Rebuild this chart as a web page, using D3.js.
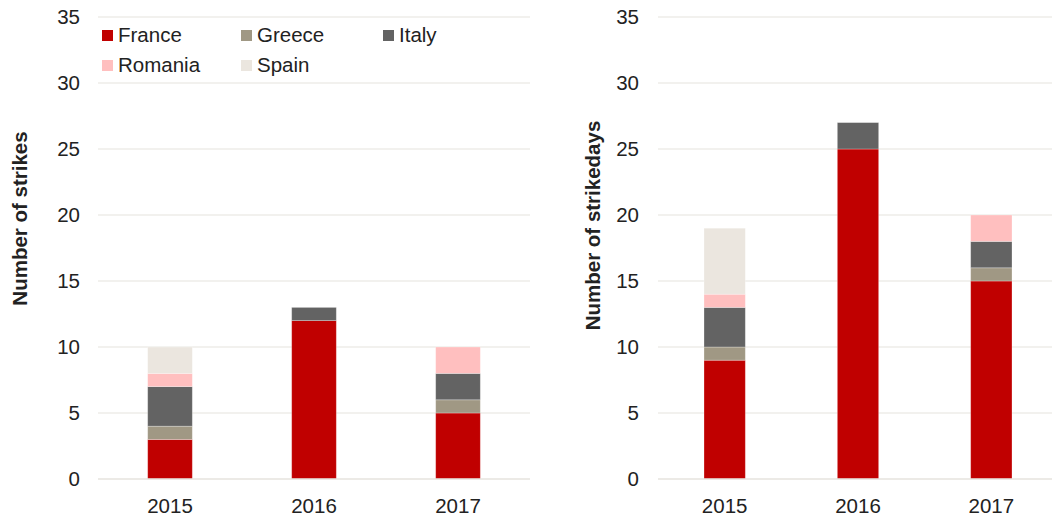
<!DOCTYPE html>
<html><head><meta charset="utf-8">
<script src="https://cdn.jsdelivr.net/npm/d3@7"></script>
<style>body{margin:0;background:#fff;font-family:"Liberation Sans",Arial,sans-serif;}</style>
</head><body>
<svg id="c" width="1052" height="518"></svg>
<script>
const years = ["2015","2016","2017"];
const countries = ["France","Greece","Italy","Romania","Spain"];
const colors = ["#c00000","#a09884","#636363","#ffbfbf","#ebe6df"];
const yTicks = [0,5,10,15,20,25,30,35];
// Number of strikes
const strikesFrance = [3,12,5];
const strikesGreece = [1,0,1];
const strikesItaly = [3,1,2];
const strikesRomania = [1,0,2];
const strikesSpain = [2,0,0];
// Number of strikedays
const daysFrance = [9,25,15];
const daysGreece = [1,0,1];
const daysItaly = [3,2,2];
const daysRomania = [1,0,2];
const daysSpain = [5,0,0];

const svg = d3.select("#c");
const font = '"Liberation Sans",Arial,sans-serif';
const FS = 20.5;

function rows(series){
  return years.map((y,i)=>{const o={year:y}; countries.forEach((c,j)=>o[c]=series[j][i]); return o;});
}

function panel(cfg){
  const g = svg.append("g");
  const x = d3.scaleBand().domain(years).range([cfg.x0,cfg.x1]).paddingInner(0.69).paddingOuter(0.345);
  const y = d3.scaleLinear().domain([0,35]).range([479,17]);
  g.selectAll("line.grid").data(yTicks.filter(t=>t>0)).join("line")
    .attr("x1",cfg.x0).attr("x2",cfg.x1).attr("y1",d=>y(d)).attr("y2",d=>y(d))
    .attr("stroke","#eeece8").attr("stroke-width",1.3);
  g.selectAll("text.yt").data(yTicks).join("text")
    .attr("x",cfg.tickX).attr("y",d=>y(d)).attr("dy","0.36em").attr("text-anchor","end")
    .attr("font-size",FS).attr("font-family",font).attr("fill","#222").text(d=>d);
  const stack = d3.stack().keys(countries)(rows(cfg.series));
  stack.forEach((layer,k)=>{
    g.selectAll(null).data(layer.filter(d=>d[1]>d[0])).join("rect")
      .attr("x",d=>x(d.data.year)).attr("width",x.bandwidth())
      .attr("y",d=>y(d[1])).attr("height",d=>y(d[0])-y(d[1]))
      .attr("fill",colors[k]).attr("stroke","rgba(255,255,255,0.35)").attr("stroke-width",0.8);
  });
  g.append("line").attr("x1",cfg.x0).attr("x2",cfg.x1).attr("y1",y(0)).attr("y2",y(0))
    .attr("stroke","#e6e3de").attr("stroke-width",1.3);
  g.selectAll("text.xt").data(years).join("text")
    .attr("x",d=>x(d)+x.bandwidth()/2).attr("y",505.5).attr("dy","0.36em").attr("text-anchor","middle")
    .attr("font-size",FS).attr("font-family",font).attr("fill","#222").text(d=>d);
  g.append("text").attr("transform",`translate(${cfg.titleX},${cfg.titleY}) rotate(-90)`)
    .attr("text-anchor","middle").attr("dy","0.36em").attr("font-size",FS).attr("font-weight","bold")
    .attr("font-family",font).attr("fill","#222").text(cfg.title);
}

panel({x0:98,x1:530,tickX:80,titleX:20,titleY:218.5,title:"Number of strikes",
  series:[strikesFrance,strikesGreece,strikesItaly,strikesRomania,strikesSpain]});
panel({x0:658,x1:1058,tickX:639,titleX:593,titleY:225.5,title:"Number of strikedays",
  series:[daysFrance,daysGreece,daysItaly,daysRomania,daysSpain]});

const legPos = [[102,35],[241,35],[383,35],[102,65],[241,65]];
const lg = svg.append("g");
countries.forEach((c,i)=>{
  const [lx,ly]=legPos[i];
  lg.append("rect").attr("x",lx).attr("y",ly-5).attr("width",11).attr("height",11).attr("fill",colors[i]);
  lg.append("text").attr("x",lx+16).attr("y",ly).attr("dy","0.36em").attr("font-size",FS)
    .attr("font-family",font).attr("fill","#222").text(c);
});
</script>
</body></html>
